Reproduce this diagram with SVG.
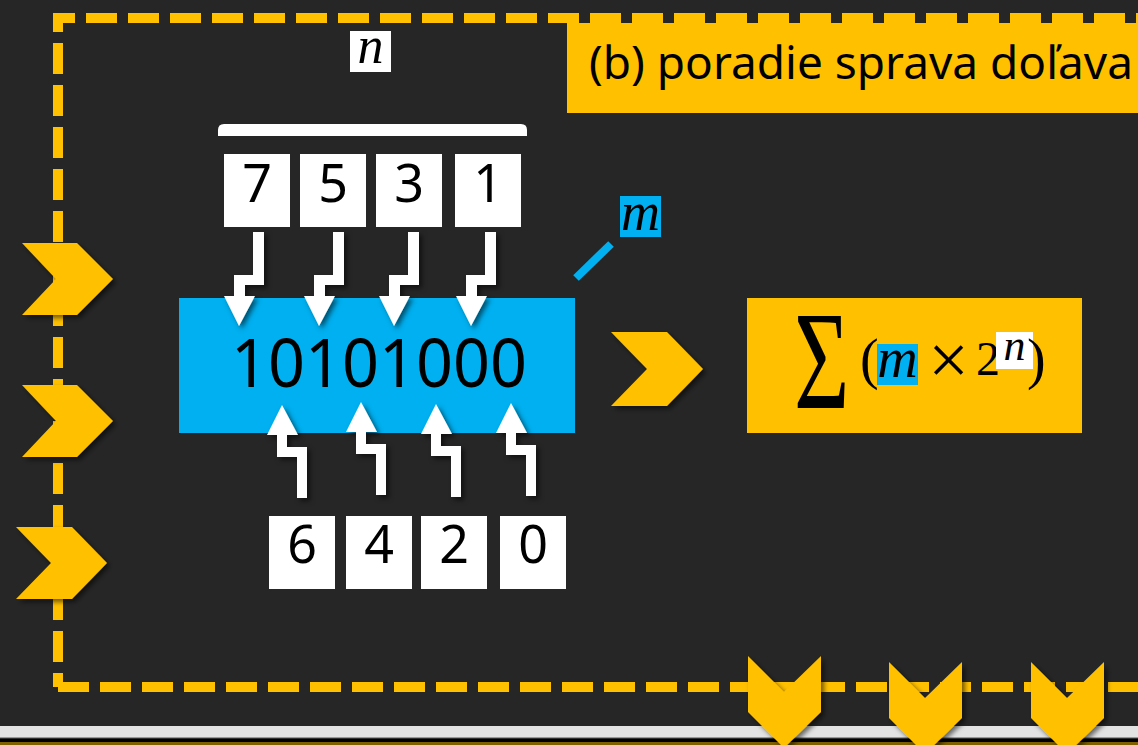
<svg xmlns="http://www.w3.org/2000/svg" xmlns:xlink="http://www.w3.org/1999/xlink" width="1138" height="745" viewBox="0 0 1138 745">
<defs>
<style>
.dash{fill:none;stroke:#FFC000;stroke-width:10;stroke-dasharray:31 11}
.yel{fill:#FFC000}
.blue{fill:#00B0F0}
.wbox{fill:#FFFFFF}
.arw{fill:#FFFFFF}
.digit{font-family:"Noto Sans","Open Sans",sans-serif;font-size:52px;fill:#000;text-anchor:middle}
.math{font-family:"Liberation Serif","DejaVu Serif",serif;fill:#000}
</style>
<filter id="sh" x="-30%" y="-30%" width="160%" height="160%">
<feDropShadow dx="3" dy="3" stdDeviation="2.5" flood-color="#000" flood-opacity="0.55"/>
</filter>
<polygon id="downArrow" points="14,-94 25,-94 25,-41 6,-41 6,-30 16,-30 0,0 -15,-30 -5,-30 -5,-51 14,-51"/>
<polygon id="upArrow" points="0,0 16,30 5,30 5,42 25,42 25,93 15,93 15,52 -5,52 -5,30 -15,30"/>
<polygon id="chevDown" points="0,0 36,36 73,0 73,56 36,92 0,56"/>
</defs>
<rect width="1138" height="745" fill="#262626"/>
<!-- bottom band -->
<rect x="0" y="726" width="1138" height="11" fill="#E3E3E3"/>
<rect x="0" y="737" width="1138" height="1.5" fill="#9a9a9a"/>
<rect x="0" y="738.5" width="1138" height="3.5" fill="#000"/>
<rect x="0" y="742" width="1138" height="3" fill="#7F6000"/>

<g id="frame">
<path class="dash" d="M58,687 V18 H1160" style="stroke-dashoffset:17"/>
<path class="dash" d="M58,687 H1160"/>
</g>

<g id="title">
<rect class="yel" x="567" y="23" width="580" height="90"/>
<text x="589" y="79" font-family="Noto Sans, Open Sans, sans-serif" font-size="45" fill="#000" textLength="544" lengthAdjust="spacingAndGlyphs">(b) poradie sprava doľava</text>
</g>

<g id="n-label">
<rect class="wbox" x="350" y="31" width="41" height="41"/>
<text class="math" x="370.5" y="63" font-size="52" font-style="italic" text-anchor="middle">n</text>
</g>

<g id="brace">
<path d="M218,136 V130 Q218,124 224,124 H521 Q527,124 527,130 V136 Z" fill="#FFFFFF"/>
</g>

<g id="top-boxes">
<rect class="wbox" x="224" y="154" width="66" height="73"/>
<text class="digit" x="257" y="202">7</text>
<rect class="wbox" x="300" y="154" width="66" height="73"/>
<text class="digit" x="333" y="202">5</text>
<rect class="wbox" x="376" y="154" width="66" height="73"/>
<text class="digit" x="409" y="202">3</text>
<rect class="wbox" x="455" y="154" width="66" height="73"/>
<text class="digit" x="488" y="202">1</text>
</g>

<g id="bits">
<rect class="blue" x="179" y="298" width="396" height="135"/>
<text x="231" y="387" font-family="Noto Sans, Open Sans, sans-serif" font-size="68" fill="#000" textLength="296" lengthAdjust="spacingAndGlyphs">10101000</text>
</g>

<g id="m-label">
<line x1="576" y1="278" x2="611" y2="244" stroke="#00B0F0" stroke-width="8"/>
<rect class="blue" x="620" y="196" width="41" height="41"/>
<text class="math" x="640.5" y="230" font-size="54" font-style="italic" text-anchor="middle">m</text>
</g>

<g id="bottom-boxes">
<rect class="wbox" x="269" y="516" width="66" height="73"/>
<text class="digit" x="302" y="563">6</text>
<rect class="wbox" x="346" y="516" width="66" height="73"/>
<text class="digit" x="379" y="563">4</text>
<rect class="wbox" x="421" y="516" width="66" height="73"/>
<text class="digit" x="454" y="563">2</text>
<rect class="wbox" x="500" y="516" width="66" height="73"/>
<text class="digit" x="533" y="563">0</text>
</g>

<g id="connectors" filter="url(#sh)">
<use xlink:href="#downArrow" class="arw" x="239" y="326"/>
<use xlink:href="#downArrow" class="arw" x="319" y="326"/>
<use xlink:href="#downArrow" class="arw" x="394" y="326"/>
<use xlink:href="#downArrow" class="arw" x="471" y="326"/>
<use xlink:href="#upArrow" class="arw" x="282" y="405"/>
<use xlink:href="#upArrow" class="arw" x="361" y="402"/>
<use xlink:href="#upArrow" class="arw" x="436" y="404"/>
<use xlink:href="#upArrow" class="arw" x="511" y="403"/>
</g>

<g id="left-chevrons" filter="url(#sh)">
<polygon class="yel" points="22,243 77,243 113,279 77,315 22,315 56,279"/>
<polygon class="yel" points="22,385 77,385 113,421 77,457 22,457 56,421"/>
<polygon class="yel" points="16,527 72,527 107,563 72,599 16,599 51,563"/>
</g>

<g id="mid-chevron" filter="url(#sh)">
<polygon class="yel" points="611,332 667,332 703,369 667,406 611,406 647,369"/>
</g>

<g id="sum-box">
<rect class="yel" x="747" y="298" width="335" height="135"/>
<text class="math" x="0" y="0" font-size="140" transform="translate(794,408) scale(0.68,1)">Σ</text>
<text class="math" x="860" y="378" font-size="56">(</text>
<rect class="blue" x="877" y="344" width="41" height="41"/>
<text class="math" x="897.5" y="377" font-size="56" font-style="italic" text-anchor="middle">m</text>
<text class="math" x="948.5" y="384" font-size="72" text-anchor="middle">×</text>
<text class="math" x="976" y="375" font-size="48">2</text>
<rect class="wbox" x="996" y="332" width="37" height="37"/>
<text class="math" x="1014.5" y="360" font-size="44" font-style="italic" text-anchor="middle">n</text>
<text class="math" x="1027" y="378" font-size="56">)</text>
</g>

<g id="bottom-chevrons" filter="url(#sh)">
<use xlink:href="#chevDown" class="yel" x="748" y="656"/>
<use xlink:href="#chevDown" class="yel" x="889" y="662"/>
<use xlink:href="#chevDown" class="yel" x="1031" y="662"/>
</g>
</svg>
